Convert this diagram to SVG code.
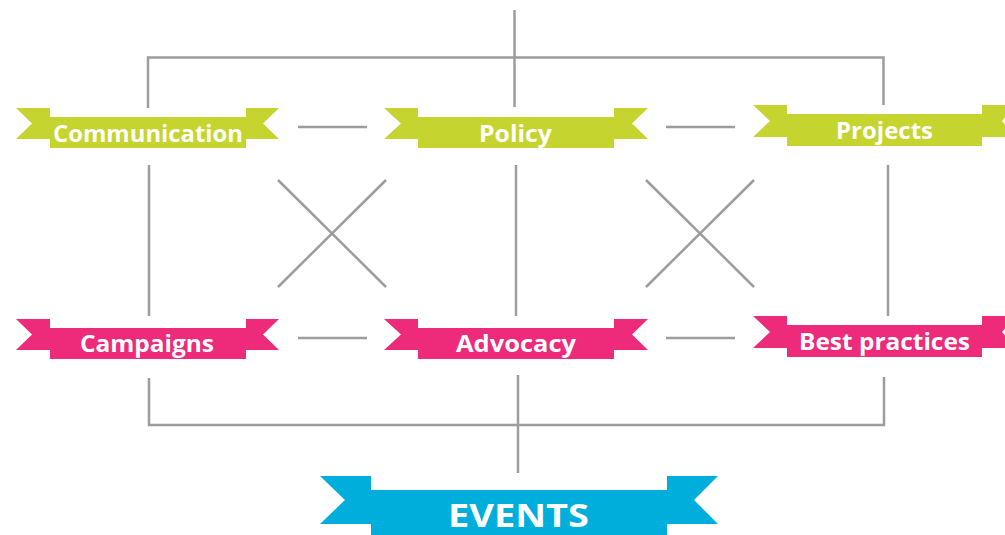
<svg xmlns="http://www.w3.org/2000/svg" width="1005" height="535" viewBox="0 0 1005 535">
<style>
.lime{fill:#c5d42e}
.pink{fill:#ee2a7b}
.cyan{fill:#00aedb}
.lbl{font-family:"Open Sans","Liberation Sans",sans-serif;font-weight:700;fill:#fff;text-anchor:middle}
.s{font-size:23px}
.b{font-size:33px}
#connectors line,#connectors polyline{stroke:#9d9d9f;stroke-width:2.5;fill:none}
</style>
<rect width="1005" height="535" fill="#fff"/>
<g id="connectors">
<line x1="514.5" y1="10" x2="514.5" y2="107"/>
<polyline points="148,108 148,57.5 883.5,57.5 883.5,105"/>
<line x1="298" y1="127" x2="367" y2="127"/>
<line x1="666" y1="127" x2="735" y2="127"/>
<line x1="149" y1="165" x2="149" y2="316"/>
<line x1="516" y1="165" x2="516" y2="316"/>
<line x1="888" y1="165" x2="888" y2="316"/>
<line x1="278" y1="180" x2="386" y2="287"/>
<line x1="386" y1="180" x2="278" y2="287"/>
<line x1="646" y1="180" x2="754" y2="287"/>
<line x1="754" y1="180" x2="646" y2="287"/>
<line x1="298" y1="338" x2="367" y2="338"/>
<line x1="666" y1="338" x2="735" y2="338"/>
<polyline points="149,378 149,425 884,425 884,377"/>
<line x1="518" y1="375" x2="518" y2="473"/>
</g>
<g id="communication">
<polygon class="lime" points="16,108 50,108 50,139 16,139 32,123.5"/>
<polygon class="lime" points="279,108 246,108 246,139 279,139 263,123.5"/>
<rect class="lime" x="50" y="117" width="196" height="31"/>
<text class="lbl s" x="148" y="142" textLength="190" lengthAdjust="spacingAndGlyphs">Communication</text>
</g>
<g id="policy">
<polygon class="lime" points="384,108 418,108 418,139 384,139 401,123.5"/>
<polygon class="lime" points="648,108 614,108 614,139 648,139 632,123.5"/>
<rect class="lime" x="418" y="117" width="196" height="31"/>
<text class="lbl s" x="515.5" y="142" textLength="73" lengthAdjust="spacingAndGlyphs">Policy</text>
</g>
<g id="projects">
<polygon class="lime" points="753,105 787,105 787,137 753,137 770,121"/>
<polygon class="lime" points="1016,105 982,105 982,137 1016,137 1002,121"/>
<rect class="lime" x="787" y="114" width="195" height="32"/>
<text class="lbl s" x="884.5" y="139" textLength="97" lengthAdjust="spacingAndGlyphs">Projects</text>
</g>
<g id="campaigns">
<polygon class="pink" points="16,319 50,319 50,350 16,350 32,334.5"/>
<polygon class="pink" points="279,319 246,319 246,350 279,350 263,334.5"/>
<rect class="pink" x="50" y="328" width="196" height="31"/>
<text class="lbl s" x="147" y="352" textLength="134" lengthAdjust="spacingAndGlyphs">Campaigns</text>
</g>
<g id="advocacy">
<polygon class="pink" points="384,319 418,319 418,350 384,350 401,334.5"/>
<polygon class="pink" points="648,319 614,319 614,350 648,350 632,334.5"/>
<rect class="pink" x="418" y="328" width="196" height="31"/>
<text class="lbl s" x="516" y="352" textLength="120" lengthAdjust="spacingAndGlyphs">Advocacy</text>
</g>
<g id="best-practices">
<polygon class="pink" points="753,316 787,316 787,348 753,348 770,332"/>
<polygon class="pink" points="1016,316 982,316 982,348 1016,348 1002,332"/>
<rect class="pink" x="787" y="325" width="195" height="32"/>
<text class="lbl s" x="884.5" y="350" textLength="171" lengthAdjust="spacingAndGlyphs">Best practices</text>
</g>
<g id="events">
<polygon class="cyan" points="320,476 371,476 371,524 320,524 345,500"/>
<polygon class="cyan" points="718,476 667,476 667,524 718,524 694,500"/>
<rect class="cyan" x="371" y="490" width="296" height="45"/>
<text class="lbl b" x="518.5" y="527" textLength="141" lengthAdjust="spacingAndGlyphs">EVENTS</text>
</g>
</svg>
